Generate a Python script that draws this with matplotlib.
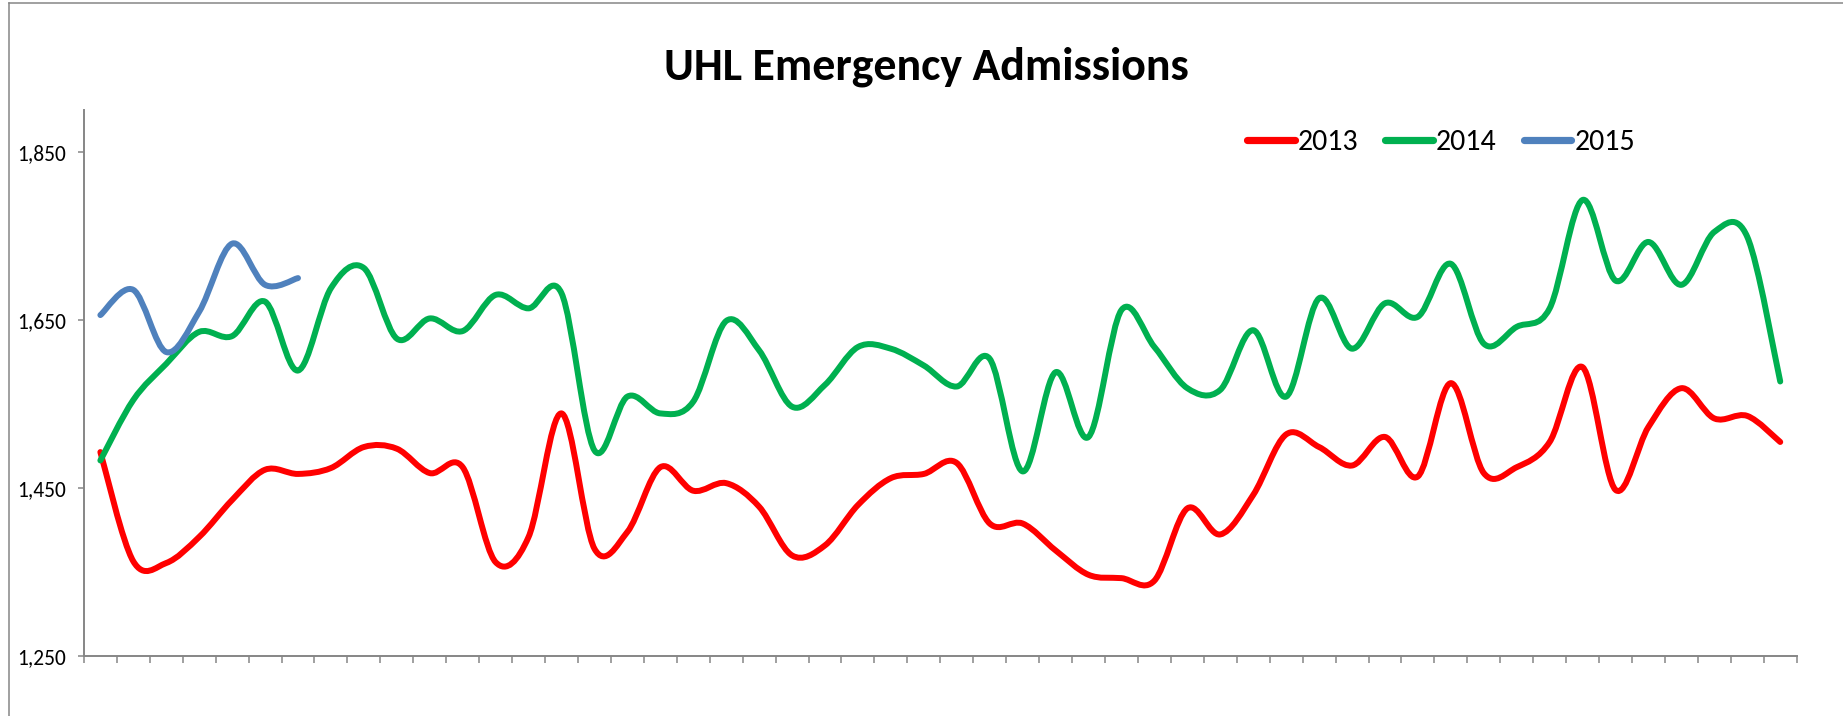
import numpy as np
import matplotlib
matplotlib.use("Agg")
import matplotlib.pyplot as plt
from matplotlib import font_manager
from matplotlib.path import Path
from matplotlib.patches import PathPatch
from matplotlib.lines import Line2D

# weekly emergency admissions (52 weeks)
adm_2013 = [1493, 1363, 1361, 1392, 1436, 1472, 1467, 1474, 1499, 1497,
            1468, 1475, 1362, 1392, 1539, 1378, 1398, 1475, 1447, 1456,
            1428, 1370, 1382, 1430, 1462, 1467, 1480, 1408, 1408, 1376,
            1347, 1343, 1340, 1426, 1395, 1442, 1514, 1499, 1477, 1511,
            1464, 1575, 1468, 1475, 1505, 1594, 1448, 1523, 1569, 1533,
            1536, 1505]
adm_2014 = [1483, 1555, 1598, 1636, 1631, 1672, 1590, 1688, 1712, 1628,
            1652, 1637, 1680, 1664, 1682, 1495, 1559, 1539, 1553, 1649,
            1614, 1547, 1573, 1618, 1616, 1596, 1571, 1604, 1470, 1588,
            1511, 1662, 1618, 1569, 1567, 1638, 1559, 1676, 1616, 1670,
            1654, 1717, 1622, 1642, 1664, 1793, 1697, 1743, 1692, 1755,
            1749, 1577]
adm_2015 = [1656, 1686, 1612, 1660, 1741, 1692, 1700]

series = [("2013", adm_2013, "#FF0000"),
          ("2014", adm_2014, "#00B050"),
          ("2015", adm_2015, "#4F81BD")]

y_ticks = [1250, 1450, 1650, 1850]
y_labels = ["1,250", "1,450", "1,650", "1,850"]

# narrow Calibri-like face if one is around
installed = {f.name for f in font_manager.fontManager.ttflist}
narrow = next((f for f in ["Liberation Sans Narrow", "Carlito", "Roboto Condensed",
                           "Open Sans Condensed", "Lato"] if f in installed), "DejaVu Sans")
plt.rcParams["font.family"] = [narrow, "DejaVu Sans"]
is_narrow = narrow in ("Liberation Sans Narrow", "Carlito", "Roboto Condensed",
                       "Open Sans Condensed")


def smooth_path(y):
    # Excel-style smoothed line: cubic Bezier segments through every point
    pts = np.column_stack([np.arange(len(y)) + 0.5, np.asarray(y, float)])
    n = len(pts)
    verts, codes = [pts[0]], [Path.MOVETO]
    for i in range(n - 1):
        p0 = pts[max(i - 1, 0)]
        p1, p2 = pts[i], pts[i + 1]
        p3 = pts[min(i + 2, n - 1)]
        verts += [p1 + (p2 - p0) / 6, p2 - (p3 - p1) / 6, p2]
        codes += [Path.CURVE4] * 3
    return Path(verts, codes)


W, H = 1843, 716
fig = plt.figure(figsize=(W / 100, H / 100), dpi=100)
ax = fig.add_axes([83.9 / W, 1 - 656.3 / H, (1796.7 - 83.9) / W, (656.3 - 110) / H])

handles = []
for name, vals, col in series:
    ax.add_patch(PathPatch(smooth_path(vals), fill=False, edgecolor=col,
                           lw=4.3, capstyle="round", joinstyle="round"))
    handles.append(Line2D([], [], color=col, lw=5.2, solid_capstyle="round", label=name))

ax.set_xlim(0, 52)
ax.set_ylim(1250, 1900)
ax.set_xticks(np.arange(0, 53))
ax.set_xticklabels([])
ax.set_yticks(y_ticks)
ax.set_yticklabels(y_labels, fontsize=15.5 if is_narrow else 14)
ax.tick_params(axis="x", length=5, width=1.1, color="#868686")
ax.tick_params(axis="y", length=4.5, width=1.1, color="#868686", pad=8.5)
for s in ("top", "right"):
    ax.spines[s].set_visible(False)
for s in ("left", "bottom"):
    ax.spines[s].set_color("#868686")
    ax.spines[s].set_linewidth(1.4)

leg = ax.legend(handles=handles, ncol=3, frameon=False,
                fontsize=21.5 if is_narrow else 18.5,
                loc="center left", bbox_to_anchor=(1247 / W, 1 - 142 / H),
                bbox_transform=fig.transFigure, borderpad=0, borderaxespad=0,
                handlelength=1.6, handletextpad=0.1, columnspacing=0.9)

title = fig.text(926.5 / W, 1 - 67 / H, "UHL Emergency Admissions", ha="center",
                 va="center", fontsize=34, fontweight="bold")
# size the title so it spans the same width as in the original (~525 px)
fig.canvas.draw()
tw = title.get_window_extent().width
title.set_fontsize(34 * 525 / tw)

# chart-area border (left and top edges visible)
fig.add_artist(Line2D([9 / W, 9 / W], [0, 1 - 3 / H], transform=fig.transFigure,
                      color="#868686", lw=1.1))
fig.add_artist(Line2D([9 / W, 1], [1 - 3 / H, 1 - 3 / H], transform=fig.transFigure,
                      color="#868686", lw=1.1))

fig.savefig("out.png", dpi=100)
